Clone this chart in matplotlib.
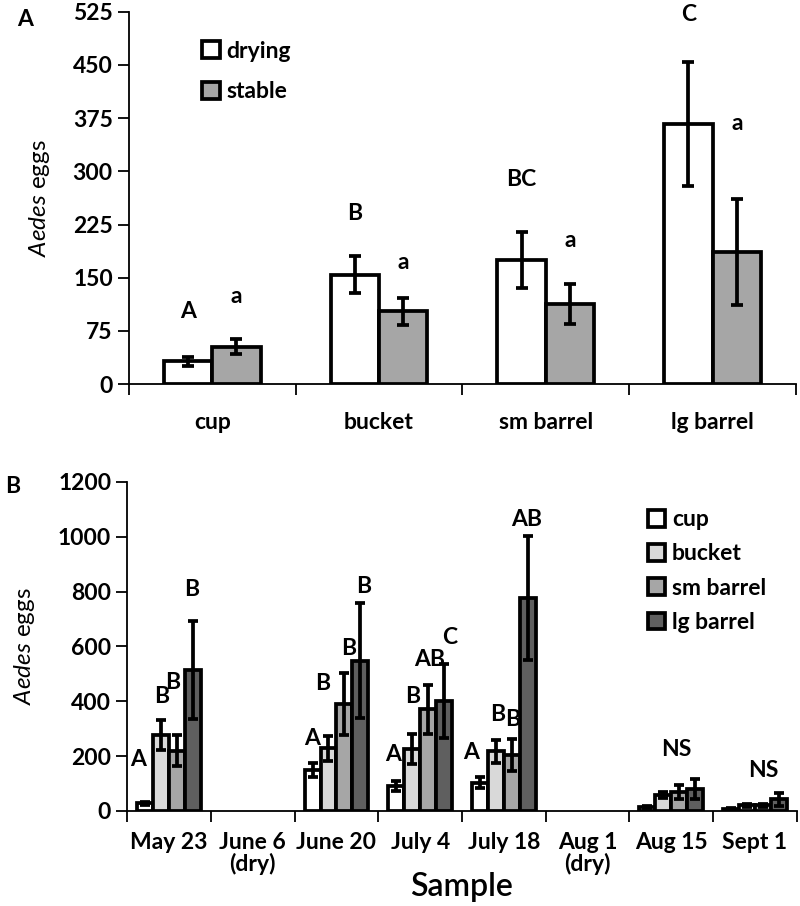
import matplotlib
matplotlib.use("Agg")
import matplotlib.pyplot as plt
import numpy as np

# ---------------- data ----------------
# Panel A
containers = ["cup", "bucket", "sm barrel", "lg barrel"]
drying_mean = [32, 154, 175, 367]
drying_err = [6, 26, 40, 87]
stable_mean = [53, 103, 113, 186]
stable_err = [10, 19, 28, 75]
sigA_drying = ["A", "B", "BC", "C"]
sigA_drying_y = [102, 241, 288, 521]
sigA_stable = ["a", "a", "a", "a"]
sigA_stable_y = [123, 171, 203, 368]

# Panel B
samples = ["May 23", "June 6\n(dry)", "June 20", "July 4", "July 18",
           "Aug 1\n(dry)", "Aug 15", "Sept 1"]
cup_mean = [28, 0, 150, 90, 103, 0, 15, 8]
cup_err = [5, 0, 25, 18, 20, 0, 4, 3]
bucket_mean = [276, 0, 228, 225, 217, 0, 58, 20]
bucket_err = [55, 0, 47, 55, 43, 0, 10, 6]
smb_mean = [220, 0, 390, 370, 205, 0, 70, 20]
smb_err = [57, 0, 113, 88, 58, 0, 25, 5]
lgb_mean = [515, 0, 548, 400, 778, 0, 80, 42]
lgb_err = [178, 0, 210, 135, 226, 0, 35, 25]

sigB_text = ["A", "B", "B", "B",
             "A", "B", "B", "B",
             "A", "B", "AB", "C",
             "A", "B", "B", "AB",
             "NS", "NS"]
sigB_x = [-0.37, -0.09, 0.04, 0.27,
          1.71, 1.83, 2.15, 2.32,
          2.68, 2.91, 3.11, 3.35,
          3.61, 3.93, 4.11, 4.27,
          6.06, 7.10]
sigB_y = [186, 417, 470, 807,
          265, 466, 594, 819,
          204, 417, 551, 634,
          213, 350, 332, 1062,
          223, 147]

# ---------------- style ----------------
FONT = "Lato"
plt.rcParams["font.family"] = [FONT, "DejaVu Sans"]
plt.rcParams["mathtext.fontset"] = "custom"
plt.rcParams["mathtext.it"] = FONT + ":italic"
plt.rcParams["mathtext.rm"] = FONT
TICK_FS = 16.5
LW = 2.7

fig = plt.figure(figsize=(8, 9.06), dpi=100)

# ---------------- Panel A ----------------
axA = fig.add_axes([0.161, 0.576, 0.834, 0.411])
xA = np.arange(len(containers))
w = 0.29
ekw = dict(elinewidth=LW, capsize=4, capthick=LW, ecolor="black")
axA.bar(xA - w / 2, drying_mean, w, yerr=drying_err, color="white",
        edgecolor="black", linewidth=LW, error_kw=ekw, label="drying", zorder=2)
axA.bar(xA + w / 2, stable_mean, w, yerr=stable_err, color="#a6a6a6",
        edgecolor="black", linewidth=LW, error_kw=ekw, label="stable", zorder=2)
for i in range(len(containers)):
    axA.text(xA[i] - w / 2, sigA_drying_y[i], sigA_drying[i], ha="center",
             va="center", fontsize=TICK_FS, fontweight="bold")
    axA.text(xA[i] + w / 2, sigA_stable_y[i], sigA_stable[i], ha="center",
             va="center", fontsize=TICK_FS, fontweight="bold")
axA.set_xlim(-0.5, len(containers) - 0.5)
axA.set_ylim(0, 525)
axA.set_yticks(np.arange(0, 526, 75))
axA.set_xticks(np.arange(-0.5, len(containers), 1.0))
axA.set_xticklabels([])
axA.set_xticks(xA, minor=True)
axA.set_xticklabels(containers, minor=True)
axA.tick_params(axis="x", which="minor", length=0, pad=20, labelsize=TICK_FS)
axA.tick_params(axis="x", which="major", length=8, width=1.3, direction="out")
axA.tick_params(axis="y", length=8, width=1.3, direction="out", labelsize=TICK_FS)
for lab in axA.get_xticklabels(minor=True) + axA.get_yticklabels():
    lab.set_fontweight("bold")
for s in ["top", "right"]:
    axA.spines[s].set_visible(False)
for s in ["left", "bottom"]:
    axA.spines[s].set_linewidth(1.3)
axA.set_ylabel(r"$\mathit{Aedes}$ eggs", fontsize=TICK_FS + 1, labelpad=15)
axA.legend(loc="upper left", bbox_to_anchor=(0.253, 0.955),
           bbox_transform=fig.transFigure, frameon=False,
           handlelength=0.75, handleheight=0.75, handletextpad=0.3,
           labelspacing=0.85, borderpad=0, borderaxespad=0,
           prop=dict(size=TICK_FS, weight="bold"))
fig.text(0.022, 0.978, "A", fontsize=TICK_FS, fontweight="bold", va="center")

# ---------------- Panel B ----------------
axB = fig.add_axes([0.159, 0.105, 0.837, 0.363])
xB = np.arange(len(samples))
wb = 0.19
series = [(cup_mean, cup_err, "white", "cup"),
          (bucket_mean, bucket_err, "#d9d9d9", "bucket"),
          (smb_mean, smb_err, "#a6a6a6", "sm barrel"),
          (lgb_mean, lgb_err, "#5f5f5f", "lg barrel")]
ekwB = dict(elinewidth=LW, capsize=3.5, capthick=LW, ecolor="black")
for k, (m, e, c, lab) in enumerate(series):
    off = (k - 1.5) * wb
    m = np.asarray(m, float)
    e = np.asarray(e, float)
    keep = m > 0
    axB.bar(xB[keep] + off, m[keep], wb, yerr=e[keep], color=c,
            edgecolor="black", linewidth=LW, error_kw=ekwB, label=lab, zorder=2)
for t, x, y in zip(sigB_text, sigB_x, sigB_y):
    axB.text(x, y, t, ha="center", va="center", fontsize=TICK_FS,
             fontweight="bold")
axB.set_xlim(-0.5, len(samples) - 0.5)
axB.set_ylim(0, 1200)
axB.set_yticks(np.arange(0, 1201, 200))
axB.set_xticks(np.arange(-0.5, len(samples), 1.0))
axB.set_xticklabels([])
axB.set_xticks(xB, minor=True)
axB.set_xticklabels(samples, minor=True, va="top", ha="center", linespacing=1.0)
axB.tick_params(axis="x", which="minor", length=0, pad=15, labelsize=TICK_FS)
axB.tick_params(axis="x", which="major", length=8, width=1.3, direction="out")
axB.tick_params(axis="y", length=8, width=1.3, direction="out", labelsize=TICK_FS)
for lab in axB.get_xticklabels(minor=True) + axB.get_yticklabels():
    lab.set_fontweight("bold")
for s in ["top", "right"]:
    axB.spines[s].set_visible(False)
for s in ["left", "bottom"]:
    axB.spines[s].set_linewidth(1.3)
axB.set_ylabel(r"$\mathit{Aedes}$ eggs", fontsize=TICK_FS + 1, labelpad=15)
axB.set_xlabel("Sample", fontsize=23, fontweight="semibold", labelpad=-2)
axB.legend(loc="upper left", bbox_to_anchor=(0.81, 0.438),
           bbox_transform=fig.transFigure, frameon=False,
           handlelength=0.75, handleheight=0.75, handletextpad=0.3,
           labelspacing=0.58, borderpad=0, borderaxespad=0,
           prop=dict(size=TICK_FS, weight="bold"))
fig.text(0.006, 0.463, "B", fontsize=TICK_FS, fontweight="bold", va="center")

fig.savefig("out.png", dpi=100)
